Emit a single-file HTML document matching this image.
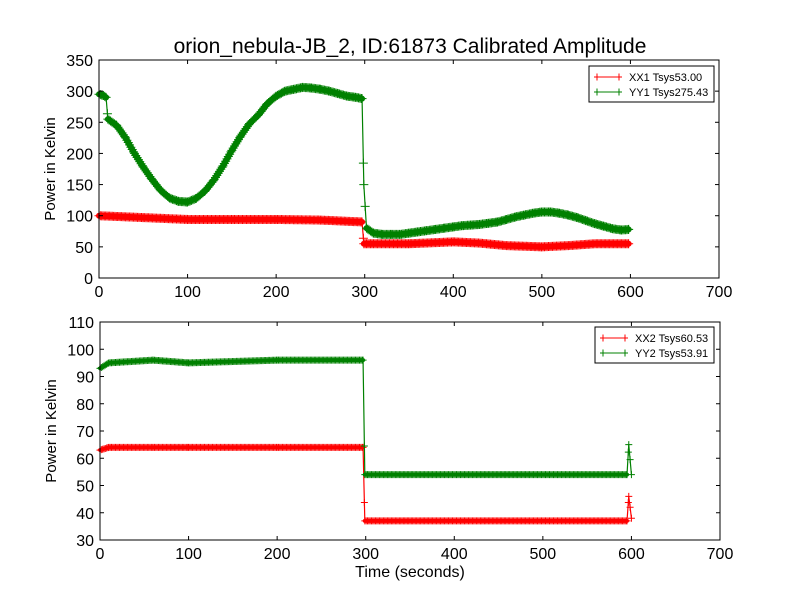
<!DOCTYPE html>
<html><head><meta charset="utf-8"><style>
body{margin:0;background:#fff}
svg{display:block;font-family:"Liberation Sans","DejaVu Sans",sans-serif}
</style></head><body>
<svg id="chart" width="800" height="600"></svg>
<script>
const t1=[0,5,8,10,20,30,40,50,60,70,80,90,100,110,120,130,140,150,160,170,180,190,200,210,220,230,240,250,260,270,280,290,297,299,302,310,320,330,340,350,360,370,380,390,400,410,420,430,440,450,460,470,480,490,500,510,520,530,540,550,560,570,580,590,598];
const yy1=[295,293,290,255,245,225,200,178,158,140,128,123,122,128,140,158,180,205,228,248,262,280,292,300,303,306,305,303,300,296,292,290,288,150,80,72,70,70,70,72,74,76,78,80,82,84,85,86,88,90,94,98,101,104,106,106,104,101,97,92,87,83,79,77,78];
const tx1=[0,50,100,150,200,250,297,299,310,350,400,430,460,500,530,560,598];
const xx1=[100,97,94,94,94,93,90,55,55,55,58,56,52,50,52,55,55];
const t2=[0,10,60,100,200,297,299,595,597,600];
const xx2=[63,64,64,64,64,64,37,37,46,38];
const yy2=[93,95,96,95,96,96,54,54,65,54];
const xTicks=[0,100,200,300,400,500,600,700];
const yTicks1=[0,50,100,150,200,250,300,350];
const yTicks2=[30,40,50,60,70,80,90,100,110];

const NS="http://www.w3.org/2000/svg";
const svg=document.getElementById('chart');
function el(tag,attrs,parent){const e=document.createElementNS(NS,tag);for(const k in attrs)e.setAttribute(k,attrs[k]);(parent||svg).appendChild(e);return e;}
function interp(ts,vs,step){const o=[];for(let i=0;i<ts.length-1;i++){for(let t=ts[i];t<ts[i+1];t+=step){const f=(t-ts[i])/(ts[i+1]-ts[i]);o.push([t,vs[i]+f*(vs[i+1]-vs[i])]);}}o.push([ts[ts.length-1],vs[vs.length-1]]);return o;}

function panel(name,L,T,W,H,ymin,ymax,yTicks,series,legend,ms,bw){
  const g=el('g',{});
  
  
  const sx=v=>L+v/700*W, sy=v=>T+H-(v-ymin)/(ymax-ymin)*H;
  el('rect',{x:L,y:T,width:W,height:H,fill:'#fff'},g);
  series.forEach(s=>{
    const sg=el('g',{},g);
    
    
    const pts=s.t.map((t,i)=>sx(t)+','+sy(s.v[i])).join(' ');
    el('polyline',{points:pts,fill:'none',stroke:s.c,'stroke-width':1.2},sg);
    let band='';
    for(let i=0;i<s.t.length-1;i++){
      const x1=sx(s.t[i]),y1=sy(s.v[i]),x2=sx(s.t[i+1]),y2=sy(s.v[i+1]);
      if(Math.abs(y2-y1)>4*Math.abs(x2-x1)+4) continue;
      band+=`M${x1},${y1}L${x2},${y2}`;
    }
    el('path',{d:band,fill:'none',stroke:s.c,'stroke-width':bw,'stroke-linecap':'round'},sg);
    let d='';
    interp(s.t,s.v,1.5).forEach(p=>{
      const x=sx(p[0]),y=sy(p[1]);d+=`M${x-ms},${y}h${2*ms}M${x},${y-ms}v${2*ms}`;});
    el('path',{d:d,stroke:s.c,'stroke-width':1,fill:'none'},sg);
  });
  el('rect',{x:L,y:T,width:W,height:H,fill:'none',stroke:'#000','stroke-width':1},g);
  xTicks.forEach(v=>{const x=sx(v);
    el('line',{x1:x,y1:T+H,x2:x,y2:T+H-4,stroke:'#000'},g);
    el('line',{x1:x,y1:T,x2:x,y2:T+4,stroke:'#000'},g);
    const tx=el('text',{x:x,y:T+H+19,'font-size':16,'text-anchor':'middle'},g);tx.textContent=v;
    });
  yTicks.forEach(v=>{const y=sy(v);
    el('line',{x1:L,y1:y,x2:L+4,y2:y,stroke:'#000'},g);
    el('line',{x1:L+W,y1:y,x2:L+W-4,y2:y,stroke:'#000'},g);
    const tx=el('text',{x:L-6,y:y+6,'font-size':16,'text-anchor':'end'},g);tx.textContent=v;
    });
  const yt=el('text',{x:0,y:0,'font-size':15,'text-anchor':'middle',transform:`translate(${L-44},${T+H/2}) rotate(-90)`},g);
  yt.textContent='Power in Kelvin';
  
  const lg=el('g',{},g);
  
  
  el('rect',{x:legend.x,y:legend.y,width:legend.w,height:36,fill:'#fff',stroke:'#000'},lg);
  legend.items.forEach((it,i)=>{const y=legend.y+11+i*15;const x0=legend.x+5;
    el('line',{x1:x0,y1:y,x2:x0+28,y2:y,stroke:it.c},lg);
    el('path',{d:`M${x0+3},${y-3.5}v7M${x0+25},${y-3.5}v7`,stroke:it.c},lg);
    const tx=el('text',{x:x0+35,y:y+4,'font-size':11},lg);tx.textContent=it.label;
    });
}
panel('top-panel',99,60,620,218,0,350,yTicks1,[
  {name:'xx1-series',t:tx1,v:xx1,c:'#ff0000'},
  {name:'yy1-series',t:t1,v:yy1,c:'#008000'}],
  {x:589,y:66,w:125,items:[{c:'#ff0000',label:'XX1 Tsys53.00'},{c:'#008000',label:'YY1 Tsys275.43'}]},4.5,6);
panel('bottom-panel',100,322,620,218,30,110,yTicks2,[
  {name:'xx2-series',t:t2,v:xx2,c:'#ff0000'},
  {name:'yy2-series',t:t2,v:yy2,c:'#008000'}],
  {x:595,y:327,w:119,items:[{c:'#ff0000',label:'XX2 Tsys60.53'},{c:'#008000',label:'YY2 Tsys53.91'}]},3.5,4);
const title=el('text',{x:410,y:53,'font-size':21,'text-anchor':'middle'});
title.textContent='orion_nebula-JB_2, ID:61873 Calibrated Amplitude';

const xt=el('text',{x:410,y:577,'font-size':16,'text-anchor':'middle'});
xt.textContent='Time (seconds)';

</script>
</body></html>
